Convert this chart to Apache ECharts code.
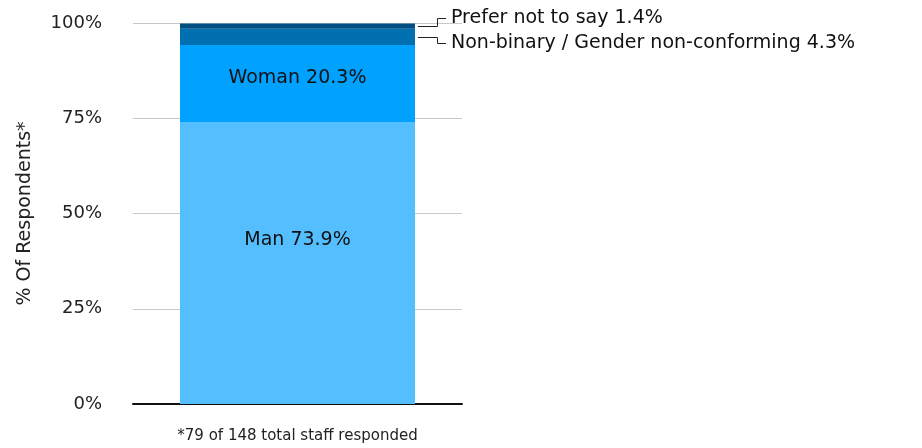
<!DOCTYPE html>
<html>
<head>
<meta charset="utf-8">
<script src="https://cdn.jsdelivr.net/npm/echarts@6/dist/echarts.min.js"></script>
<style>
  html, body { margin: 0; padding: 0; background: #fff; }
  #chart { width: 922px; height: 448px; }
</style>
</head>
<body>
<div id="chart"></div>
<script>
// Staff gender breakdown, stacked to 100%
const categories = ['*79 of 148 total staff responded'];
const groups = ['Man', 'Woman', 'Non-binary / Gender non-conforming', 'Prefer not to say'];
const shares = [73.9, 20.3, 4.3, 1.4];
const colors = ['#55BEFF', '#00A1FF', '#0070B0', '#004F80'];
const yTicks = [0, 25, 50, 75, 100];

const FONT = '"DejaVu Sans", sans-serif';
const chart = echarts.init(document.getElementById('chart'));

// Segments whose labels sit inside the bar vs. labels called out to the right
const inside = { 0: [0, -23], 1: [0, -6] };
const outside = { 2: 6, 3: -8 };

const series = groups.map((name, i) => {
  const label = inside[i] !== undefined
    ? { show: true, position: 'inside', offset: inside[i], color: '#111',
        fontFamily: FONT, fontSize: 19, formatter: name + ' ' + shares[i] + '%' }
    : { show: true, position: 'right', distance: 36, offset: [0, outside[i]], color: '#111',
        fontFamily: FONT, fontSize: 19, formatter: name + ' ' + shares[i] + '%' };
  return {
    name, type: 'bar', stack: 'total', barWidth: 235,
    data: [shares[i]],
    itemStyle: { color: colors[i] },
    label,
    silent: true
  };
});

chart.setOption({
  animation: false,
  grid: { left: 133, right: 460, top: 23, bottom: 44, containLabel: false },
  xAxis: {
    type: 'category', data: categories,
    axisLine: { show: true, lineStyle: { color: '#111', width: 2 } },
    axisTick: { show: false },
    axisLabel: { color: '#222', fontFamily: FONT, fontSize: 15, margin: 25 }
  },
  yAxis: {
    type: 'value', min: 0, max: 100, interval: 25,
    name: '% Of Respondents*', nameLocation: 'middle', nameGap: 98, nameRotate: 90,
    nameTextStyle: { color: '#222', fontFamily: FONT, fontSize: 19 },
    axisLine: { show: false }, axisTick: { show: false },
    axisLabel: { color: '#222', fontFamily: FONT, fontSize: 18, margin: 31,
      formatter: v => (yTicks.includes(v) ? v + '%' : '') },
    splitLine: { lineStyle: { color: '#c8c8c8', width: 1 } }
  },
  series
});

// Elbow connectors from the thin top segments to their callout labels
function connectors() {
  const els = [];
  let base = 0;
  const mids = shares.map(v => { const m = base + v / 2; base += v; return m; });
  const crisp = v => Math.round(v) + 0.5;
  const barRight = Math.round(chart.convertToPixel({ xAxisIndex: 0, yAxisIndex: 0 }, [0, 0])[0] + 235 / 2);
  Object.keys(outside).forEach(k => {
    const i = +k;
    const y0 = crisp(chart.convertToPixel({ yAxisIndex: 0 }, mids[i]));
    const y1 = y0 + outside[i];
    const xm = barRight + 22.5;
    els.push({
      type: 'polyline', silent: true,
      shape: { points: [[barRight + 3, y0], [xm, y0], [xm, y1], [barRight + 31, y1]] },
      style: { stroke: '#222', lineWidth: 1, fill: null }
    });
  });
  chart.setOption({ graphic: els });
}
connectors();
</script>
</body>
</html>
